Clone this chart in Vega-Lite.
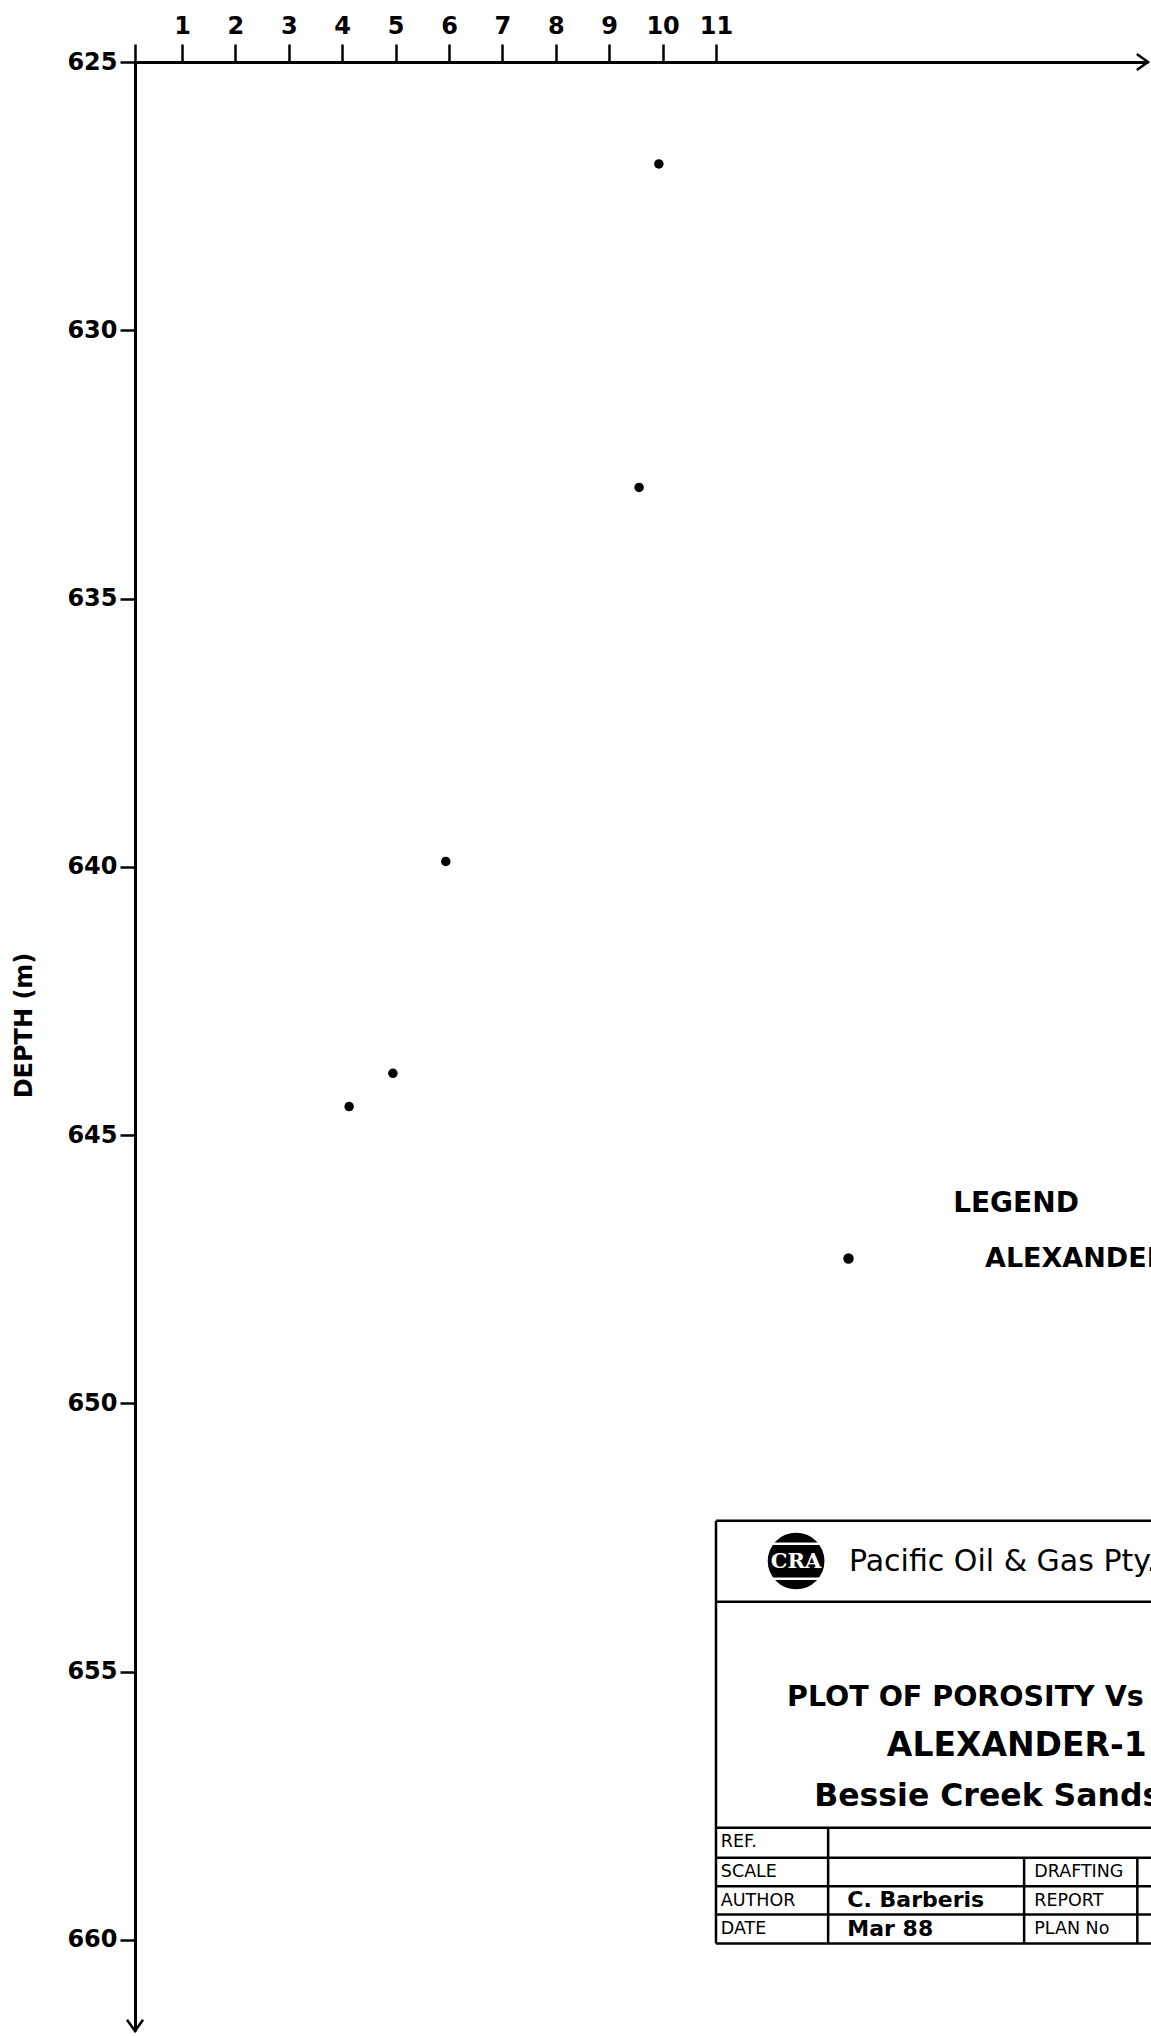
{
  "$schema": "https://vega.github.io/schema/vega-lite/v6.json",
  "width": 1013,
  "height": 1969,
  "autosize": {"type": "none"},
  "padding": {"left": 135, "top": 62, "right": 3, "bottom": 5},
  "background": "white",
  "config": {"view": {"stroke": null}},
  "datasets": {
    "points": [
      {"porosity": 9.93, "depth": 626.9, "well": "ALEXANDER-1"},
      {"porosity": 9.56, "depth": 632.93, "well": "ALEXANDER-1"},
      {"porosity": 5.94, "depth": 639.9, "well": "ALEXANDER-1"},
      {"porosity": 4.95, "depth": 643.85, "well": "ALEXANDER-1"},
      {"porosity": 4.13, "depth": 644.47, "well": "ALEXANDER-1"}
    ],
    "arrowRight": [{"x": 19.09, "y": 625}],
    "arrowDown": [{"x": 0.12, "y": 661.7}],
    "frame": [
      {"x": 11, "x2": 24, "y": 652.19, "y2": 652.19},
      {"x": 11, "x2": 24, "y": 653.7, "y2": 653.7},
      {"x": 11, "x2": 24, "y": 657.91, "y2": 657.91},
      {"x": 11, "x2": 24, "y": 658.47, "y2": 658.47},
      {"x": 11, "x2": 24, "y": 659.0, "y2": 659.0},
      {"x": 11, "x2": 24, "y": 659.53, "y2": 659.53},
      {"x": 11, "x2": 24, "y": 660.07, "y2": 660.07},
      {"x": 11, "x2": 11, "y": 652.19, "y2": 660.07},
      {"x": 13.1, "x2": 13.1, "y": 657.91, "y2": 660.07},
      {"x": 16.77, "x2": 16.77, "y": 658.47, "y2": 660.07},
      {"x": 18.89, "x2": 18.89, "y": 658.47, "y2": 660.07}
    ],
    "logo": [{"x": 12.5, "y": 652.94}],
    "logoBands": [
      {"x": 11.98, "x2": 13.02, "y": 652.62},
      {"x": 11.98, "x2": 13.02, "y": 653.27}
    ],
    "labels": [
      {"t": "CRA", "x": 12.5, "y": 652.95, "g": "logo"},
      {"t": "Pacific Oil & Gas Pty. Limited", "x": 13.49, "y": 652.96, "g": "company"},
      {"t": "PLOT OF POROSITY Vs DEPTH", "x": 12.33, "y": 655.47, "g": "plot"},
      {"t": "ALEXANDER-1", "x": 14.2, "y": 656.39, "g": "well"},
      {"t": "Bessie Creek Sandstone", "x": 12.84, "y": 657.34, "g": "sand"},
      {"t": "REF.", "x": 11.09, "y": 658.18, "g": "cell"},
      {"t": "SCALE", "x": 11.09, "y": 658.73, "g": "cell"},
      {"t": "AUTHOR", "x": 11.09, "y": 659.27, "g": "cell"},
      {"t": "DATE", "x": 11.09, "y": 659.8, "g": "cell"},
      {"t": "DRAFTING", "x": 16.96, "y": 658.73, "g": "cell"},
      {"t": "REPORT", "x": 16.96, "y": 659.27, "g": "cell"},
      {"t": "PLAN No", "x": 16.96, "y": 659.8, "g": "cell"},
      {"t": "C. Barberis", "x": 13.46, "y": 659.25, "g": "entry"},
      {"t": "Mar 88", "x": 13.46, "y": 659.79, "g": "entry"}
    ]
  },
  "encoding": {
    "x": {
      "type": "quantitative",
      "scale": {"domain": [0.12, 19.09], "nice": false, "zero": false}
    },
    "y": {
      "type": "quantitative",
      "scale": {"domain": [625, 661.7], "nice": false, "zero": false, "reverse": true}
    }
  },
  "layer": [
    {
      "data": {"name": "points"},
      "mark": {"type": "point", "filled": true, "size": 90, "opacity": 1, "shape": "circle"},
      "encoding": {
        "x": {
          "field": "porosity",
          "type": "quantitative",
          "axis": {
            "orient": "top",
            "values": [0.12, 1, 2, 3, 4, 5, 6, 7, 8, 9, 10, 11],
            "labelExpr": "datum.value < 0.5 ? '' : datum.label",
            "title": null,
            "grid": false,
            "domainColor": "black",
            "domainWidth": 3,
            "tickColor": "black",
            "tickWidth": 2.5,
            "tickSize": 18,
            "labelFont": "DejaVu Sans",
            "labelFontWeight": "bold",
            "labelFontSize": 24,
            "labelColor": "black",
            "labelPadding": 6,
            "labelFlush": false,
            "labelOverlap": false
          }
        },
        "y": {
          "field": "depth",
          "type": "quantitative",
          "axis": {
            "orient": "left",
            "values": [625, 630, 635, 640, 645, 650, 655, 660],
            "title": "DEPTH (m)",
            "titleFont": "DejaVu Sans",
            "titleFontWeight": "bold",
            "titleFontSize": 24,
            "titleColor": "black",
            "titleAngle": -90,
            "titleX": -111,
            "titleY": 963,
            "titleAlign": "center",
            "titleBaseline": "middle",
            "grid": false,
            "domainColor": "black",
            "domainWidth": 3,
            "tickColor": "black",
            "tickWidth": 2.5,
            "tickSize": 15,
            "labelFont": "DejaVu Sans",
            "labelFontWeight": "bold",
            "labelFontSize": 24,
            "labelColor": "black",
            "labelPadding": 3,
            "labelFlush": false,
            "labelOverlap": false
          }
        },
        "color": {
          "field": "well",
          "type": "nominal",
          "scale": {"range": ["black"]},
          "legend": {
            "orient": "none",
            "legendX": 700,
            "legendY": 1128,
            "title": "LEGEND",
            "titleFont": "DejaVu Sans",
            "titleFontSize": 28,
            "titleFontWeight": "bold",
            "titleColor": "black",
            "titleAnchor": "middle",
            "titlePadding": 27,
            "labelFont": "DejaVu Sans",
            "labelFontSize": 27,
            "labelFontWeight": "bold",
            "labelColor": "black",
            "labelOffset": 123,
            "labelLimit": 500,
            "symbolSize": 80,
            "symbolType": "circle",
            "symbolFillColor": "black",
            "symbolStrokeColor": "black",
            "symbolOpacity": 1,
            "padding": 0
          }
        }
      }
    },
    {
      "data": {"name": "arrowRight"},
      "mark": {"type": "point", "shape": "M -1.4 -1 L 0 0 L -1.4 1", "filled": false, "fill": null, "stroke": "black", "strokeWidth": 2.5, "size": 256, "opacity": 1},
      "encoding": {"x": {"field": "x", "type": "quantitative"}, "y": {"field": "y", "type": "quantitative"}}
    },
    {
      "data": {"name": "arrowDown"},
      "mark": {"type": "point", "shape": "M -1 -1.4 L 0 0 L 1 -1.4", "filled": false, "fill": null, "stroke": "black", "strokeWidth": 2.5, "size": 256, "opacity": 1},
      "encoding": {"x": {"field": "x", "type": "quantitative"}, "y": {"field": "y", "type": "quantitative"}}
    },
    {
      "data": {"name": "frame"},
      "mark": {"type": "rule", "color": "black", "strokeWidth": 2.5},
      "encoding": {
        "x": {"field": "x", "type": "quantitative"},
        "x2": {"field": "x2"},
        "y": {"field": "y", "type": "quantitative"},
        "y2": {"field": "y2"}
      }
    },
    {
      "data": {"name": "logo"},
      "mark": {"type": "point", "shape": "circle", "filled": true, "color": "black", "size": 3217, "opacity": 1},
      "encoding": {"x": {"field": "x", "type": "quantitative"}, "y": {"field": "y", "type": "quantitative"}}
    },
    {
      "data": {"name": "logoBands"},
      "mark": {"type": "rule", "color": "white", "strokeWidth": 2.5},
      "encoding": {
        "x": {"field": "x", "type": "quantitative"},
        "x2": {"field": "x2"},
        "y": {"field": "y", "type": "quantitative"}
      }
    },
    {
      "data": {"name": "labels"},
      "transform": [{"filter": "datum.g == 'logo'"}],
      "mark": {"type": "text", "font": "DejaVu Serif", "fontWeight": "bold", "fontSize": 21, "color": "white", "align": "center", "baseline": "middle"},
      "encoding": {"x": {"field": "x", "type": "quantitative"}, "y": {"field": "y", "type": "quantitative"}, "text": {"field": "t"}}
    },
    {
      "data": {"name": "labels"},
      "transform": [{"filter": "datum.g == 'company'"}],
      "mark": {"type": "text", "font": "DejaVu Sans", "fontSize": 30, "color": "black", "align": "left", "baseline": "middle"},
      "encoding": {"x": {"field": "x", "type": "quantitative"}, "y": {"field": "y", "type": "quantitative"}, "text": {"field": "t"}}
    },
    {
      "data": {"name": "labels"},
      "transform": [{"filter": "datum.g == 'plot'"}],
      "mark": {"type": "text", "font": "DejaVu Sans", "fontWeight": "bold", "fontSize": 28.5, "color": "black", "align": "left", "baseline": "middle"},
      "encoding": {"x": {"field": "x", "type": "quantitative"}, "y": {"field": "y", "type": "quantitative"}, "text": {"field": "t"}}
    },
    {
      "data": {"name": "labels"},
      "transform": [{"filter": "datum.g == 'well'"}],
      "mark": {"type": "text", "font": "DejaVu Sans", "fontWeight": "bold", "fontSize": 33, "color": "black", "align": "left", "baseline": "middle"},
      "encoding": {"x": {"field": "x", "type": "quantitative"}, "y": {"field": "y", "type": "quantitative"}, "text": {"field": "t"}}
    },
    {
      "data": {"name": "labels"},
      "transform": [{"filter": "datum.g == 'sand'"}],
      "mark": {"type": "text", "font": "DejaVu Sans", "fontWeight": "bold", "fontSize": 31.5, "color": "black", "align": "left", "baseline": "middle"},
      "encoding": {"x": {"field": "x", "type": "quantitative"}, "y": {"field": "y", "type": "quantitative"}, "text": {"field": "t"}}
    },
    {
      "data": {"name": "labels"},
      "transform": [{"filter": "datum.g == 'cell'"}],
      "mark": {"type": "text", "font": "DejaVu Sans", "fontSize": 17.5, "color": "black", "align": "left", "baseline": "middle"},
      "encoding": {"x": {"field": "x", "type": "quantitative"}, "y": {"field": "y", "type": "quantitative"}, "text": {"field": "t"}}
    },
    {
      "data": {"name": "labels"},
      "transform": [{"filter": "datum.g == 'entry'"}],
      "mark": {"type": "text", "font": "DejaVu Sans", "fontWeight": "bold", "fontSize": 22, "color": "black", "align": "left", "baseline": "middle"},
      "encoding": {"x": {"field": "x", "type": "quantitative"}, "y": {"field": "y", "type": "quantitative"}, "text": {"field": "t"}}
    }
  ]
}
